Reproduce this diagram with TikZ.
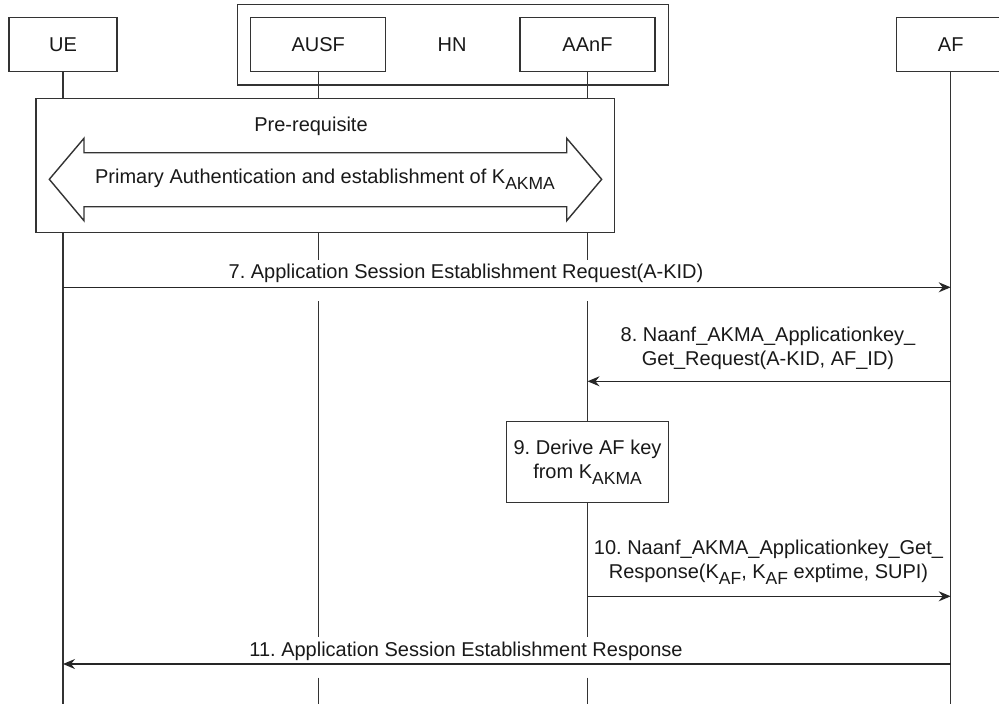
\documentclass[tikz,border=0pt]{standalone}
\usepackage{fontspec}
\setmainfont{Liberation Sans}
\usetikzlibrary{arrows.meta}
\newcommand{\ksub}[1]{K\raisebox{-0.28em}{\fontsize{17.5}{17.5}\selectfont #1}}
\frenchspacing
\begin{document}
\begin{tikzpicture}[x=1pt,y=-1pt,
  every node/.style={font=\fontsize{20}{24}\selectfont, text=black!90},
  actor/.style={draw=black!80, line width=1.4pt, fill=white, minimum height=53.6pt, inner sep=0pt},
  boxed/.style={draw=black!80, line width=1.4pt, fill=white, inner sep=0pt, align=center},
  life/.style={draw=black!80, line width=1.4pt},
  msg/.style={draw=black!85, line width=1.4pt, -{Stealth[length=12pt,width=10pt,inset=4pt]}},
  lbl/.style={align=center, inner sep=0pt}]
\useasboundingbox (0,0) rectangle (999,704);
\clip (0,0) rectangle (999,704);
% HN group
\node[boxed, minimum width=430.6pt, minimum height=80.7pt] (hn) at (453,44.65) {};
\node (hnl) at (452,44.5) {HN};
% actors
\node[actor, minimum width=108pt] (ue) at (63,44.5) {UE};
\node[actor, minimum width=135pt] (ausf) at (318.2,44.5) {AUSF};
\node[actor, minimum width=135pt] (aanf) at (587.5,44.5) {AAnF};
\node[actor, minimum width=109pt] (af) at (950.7,44.5) {AF};
% pre-requisite box
\node[boxed, minimum width=578.3pt, minimum height=134pt] (pre) at (325.15,165.7) {};
% lifelines above pre box
\draw[life] (ue.south) -- (ue.south |- pre.north);
\draw[life] (ausf.south) -- (ausf.south |- pre.north);
\draw[life] (aanf.south) -- (aanf.south |- pre.north);
% pre box contents
\node (prel) at (311,126.7) {Pre-requisite};
\draw[draw=black!80, line width=1.4pt, fill=white]
  (49.3,179.3) -- (84,138.3) -- (84,152.7) -- (566.7,152.7) -- (566.7,138.3)
  -- (601.7,179.3) -- (566.7,220.7) -- (566.7,206.7) -- (84,206.7) -- (84,220.7) -- cycle;
\node (prim) at (325,179.5) {Primary Authentication and establishment of \ksub{AKMA}};
% step 9 box
\node[boxed, minimum width=162.4pt, minimum height=81pt] (d9) at (587.5,462.2) {9. Derive AF key\\from \ksub{AKMA}};
% lifelines below
\draw[life] (ue.south |- pre.south) -- (ue.south |- 0,704);
\draw[life] (ausf.south |- pre.south) -- (ausf.south |- 0,260)
            (ausf.south |- 0,301) -- (ausf.south |- 0,636.7)
            (ausf.south |- 0,677.7) -- (ausf.south |- 0,704);
\draw[life] (aanf.south |- pre.south) -- (aanf.south |- 0,260)
            (aanf.south |- 0,301) -- (d9.north)
            (d9.south) -- (aanf.south |- 0,636.7)
            (aanf.south |- 0,677.7) -- (aanf.south |- 0,704);
\draw[life] (af.south) -- (af.south |- 0,704);
% messages
\draw[msg] (ue.south |- 0,287.3) -- (af.south |- 0,287.3);
\node[lbl] (m7) at (466,273) {7. Application Session Establishment Request(A-KID)};
\draw[msg] (af.south |- 0,381.3) -- (aanf.south |- 0,381.3);
\node[lbl] (m8) at (768,348.5) {8. Naanf\_AKMA\_Applicationkey\_\\Get\_Request(A-KID, AF\_ID)};
\draw[msg] (aanf.south |- 0,596.3) -- (af.south |- 0,596.3);
\node[lbl] (m10) at (768.5,562) {10. Naanf\_AKMA\_Applicationkey\_Get\_\\Response(\ksub{AF}, \ksub{AF} exptime, SUPI)};
\draw[msg] (af.south |- 0,664) -- (ue.south |- 0,664);
\node[lbl] (m11) at (466,651.7) {11. Application Session Establishment Response};
\end{tikzpicture}
\end{document}
